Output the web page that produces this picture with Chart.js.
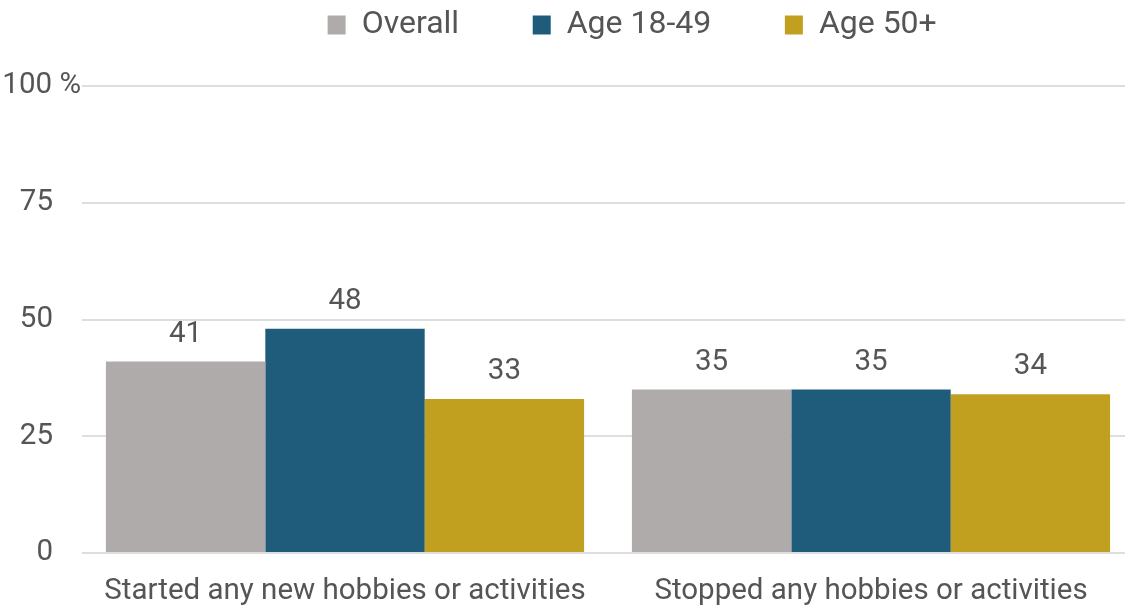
<!DOCTYPE html>
<html>
<head>
<meta charset="utf-8">
<script src="https://cdn.jsdelivr.net/npm/chart.js@4"></script>
<style>
  body { margin: 0; overflow: hidden; background: #fff; }
  #wrap { width: 1134px; height: 608px; }
</style>
</head>
<body>
<div id="wrap"><canvas id="myChart"></canvas></div>
<script>
// Data
const categories = ["Started any new hobbies or activities", "Stopped any hobbies or activities"];
const overall = [41, 35];
const age1849 = [48, 35];
const age50 = [33, 34];
const yTicks = [0, 25, 50, 75, 100];

const textColor = "#555555";
const fontFamily = "Roboto, 'Noto Sans', sans-serif";
const fontSize = 29.5;

// angka di atas bar
const valueLabels = {
  id: "valueLabels",
  afterDatasetsDraw(chart) {
    const c = chart.ctx;
    c.save();
    c.font = fontSize + "px " + fontFamily;
    c.fillStyle = textColor;
    c.textAlign = "center";
    c.textBaseline = "alphabetic";
    chart.data.datasets.forEach((ds, i) => {
      chart.getDatasetMeta(i).data.forEach((bar, j) => {
        c.fillText(ds.data[j], bar.x, bar.y - 20);
      });
    });
    c.restore();
  },
};

// geser legend ke posisi aslinya
const moveLegend = {
  id: "moveLegend",
  afterLayout(chart) {
    const lg = chart.legend;
    const dx = 89, dy = 35;
    lg.left += dx; lg.right += dx;
    lg.top -= dy; lg.bottom -= dy;
  },
};

const ctx = document.getElementById("myChart");
new Chart(ctx, {
  type: "bar",
  data: {
    labels: categories,
    datasets: [
      { label: "Overall", data: overall, backgroundColor: "#AFABAB" },
      { label: "Age 18-49", data: age1849, backgroundColor: "#1F5C7C" },
      { label: "Age 50+", data: age50, backgroundColor: "#C1A01F" },
    ],
  },
  options: {
    responsive: true,
    maintainAspectRatio: false,
    animation: false,
    layout: { padding: { top: 18 } },
    datasets: {
      bar: { barPercentage: 1, categoryPercentage: 0.909, borderWidth: 0 },
    },
    plugins: {
      tooltip: { enabled: false },
      legend: {
        position: "top",
        labels: {
          color: textColor,
          font: { size: 32, family: fontFamily },
          boxWidth: 18,
          boxHeight: 19,
          padding: 26,
          generateLabels(chart) {
            const items = Chart.defaults.plugins.legend.labels.generateLabels(chart);
            items.forEach((it) => { it.text = it.text + "      "; it.lineWidth = 0; });
            return items;
          },
        },
      },
    },
    scales: {
      x: {
        grid: { display: false },
        border: { display: false },
        ticks: { color: textColor, font: { size: fontSize, family: fontFamily }, padding: 13, maxRotation: 0 },
        afterFit(scale) { scale.height = 55; },
      },
      y: {
        min: 0,
        max: 100,
        afterBuildTicks(scale) { scale.ticks = yTicks.map((v) => ({ value: v })); },
        grid: { color: "#DEDEDE", lineWidth: 2, drawTicks: false },
        border: { display: false },
        ticks: {
          color: textColor,
          font: { size: fontSize, family: fontFamily },
          padding: 1,
          callback: (v) => (v === 100 ? "100 %" : v + "   \u2009"),
        },
        afterFit(scale) { scale.width = 82; },
      },
    },
  },
  plugins: [valueLabels, moveLegend],
});
</script>
</body>
</html>
